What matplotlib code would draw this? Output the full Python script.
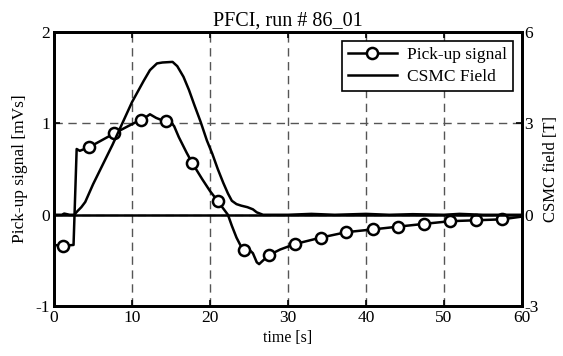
import matplotlib

matplotlib.use('Agg')
import matplotlib.pyplot as plt
import numpy as np

# pick-up signal [mVs]
pick_t = [0, 1.1, 2.5, 2.9, 3.3, 4.5, 6.0, 7.7, 9.5, 11.1, 11.8, 12.3, 12.7, 13.1, 13.7,
          14.4, 15.0, 15.4, 16.0, 17.0, 17.7, 19.0, 20.0, 21.0, 21.6, 22.3, 22.8,
          23.4, 24.0, 24.4, 25.0, 25.5, 26.0, 26.3, 26.8, 27.6, 29.0, 30.9, 34.2,
          37.5, 40.9, 44.1, 47.4, 50.8, 54.1, 57.4, 60]
pick_v = [-0.33, -0.34, -0.33, 0.72, 0.70, 0.74, 0.81, 0.89, 0.97, 1.04, 1.07, 1.10, 1.08,
          1.06, 1.04, 1.03, 1.01, 0.97, 0.85, 0.68, 0.57, 0.39, 0.26, 0.15, 0.08, 0.0,
          -0.12, -0.25, -0.35, -0.38, -0.38, -0.42, -0.52, -0.54, -0.50, -0.44, -0.38,
          -0.32, -0.25, -0.19, -0.16, -0.13, -0.10, -0.07, -0.06, -0.05, -0.02]
mark_t = [1.1, 4.5, 7.7, 11.1, 14.4, 17.7, 21.0, 24.4, 27.6, 30.9, 34.2, 37.5,
          40.9, 44.1, 47.4, 50.8, 54.1, 57.4]

# CSMC field [T]
field_t = [0, 1.0, 1.3, 2.0, 2.6, 3.0, 3.5, 4.0, 5.0, 7.5, 10.0, 11.5, 12.3, 13.2, 13.9,
           15.2, 15.8, 16.6, 17.3, 18.0, 18.8, 19.6, 20.3, 21.0, 21.7, 22.3, 22.8,
           23.4, 24.0, 24.8, 25.5, 26.0, 26.8, 30, 33, 36, 40, 43, 46, 50, 52, 55, 60]
field_v = [0.0, 0.0, 0.04, 0.0, 0.0, 0.12, 0.25, 0.42, 1.0, 2.3, 3.7, 4.4, 4.75, 4.97, 5.0,
           5.02, 4.88, 4.53, 4.1, 3.6, 3.05, 2.44, 2.0, 1.5, 1.05, 0.7, 0.46,
           0.35, 0.3, 0.25, 0.18, 0.08, 0.0, 0.0, 0.03, 0.0, 0.03, 0.0, 0.02, 0.0, 0.03, 0.0, 0.0]

plt.rcParams['font.family'] = ['Liberation Serif', 'DejaVu Serif']
plt.rcParams['font.size'] = 12.5
plt.rcParams['axes.unicode_minus'] = False

fig = plt.figure(figsize=(5.63, 3.56), dpi=100)
ax = fig.add_axes([0.096, 0.140, 0.831, 0.770])
ax2 = ax.twinx()

marks = [pick_t.index(t) for t in mark_t]
ax.plot(pick_t, pick_v, color='black', lw=1.8, marker='o', markevery=marks,
        ms=8, mfc='white', mec='black', mew=1.8, label='Pick-up signal')
ax2.plot(field_t, field_v, color='black', lw=1.8, label='CSMC Field')
ax.axhline(0, color='black', lw=1.8)

ax.set_xlim(0, 60)
ax.set_ylim(-1, 2)
ax2.set_ylim(-3, 6)
ax.set_xticks(range(0, 61, 10))
ax.set_yticks([-1, 0, 1, 2])
ax2.set_yticks([-3, 0, 3, 6])
ax.grid(True, color='#555555', ls=(0, (6, 4)), lw=1.0)

ax.tick_params(direction='in', top=True, length=4, width=1.2, pad=3)
ax2.tick_params(direction='in', length=4, width=1.2, pad=2)
for a in (ax, ax2):
    for s in a.spines.values():
        s.set_linewidth(2)

ax.set_xlabel('time [s]', labelpad=3, fontsize=11.5)
ax.set_ylabel('Pick-up signal [mVs]', labelpad=5, fontsize=12.5)
ax2.set_ylabel('CSMC field [T]', labelpad=3, fontsize=12)
ax.set_title('PFCI, run # 86_01', pad=5, fontsize=14.5)

h1, l1 = ax.get_legend_handles_labels()
h2, l2 = ax2.get_legend_handles_labels()
leg = ax2.legend(h1 + h2, l1 + l2, loc='upper right', fancybox=False, framealpha=1,
                 edgecolor='black', borderaxespad=0.5, handlelength=2.8,
                 labelspacing=0.35, borderpad=0.35, handletextpad=0.6, fontsize=12.5)
leg.get_frame().set_linewidth(1.2)

fig.savefig('out.png', dpi=100)
